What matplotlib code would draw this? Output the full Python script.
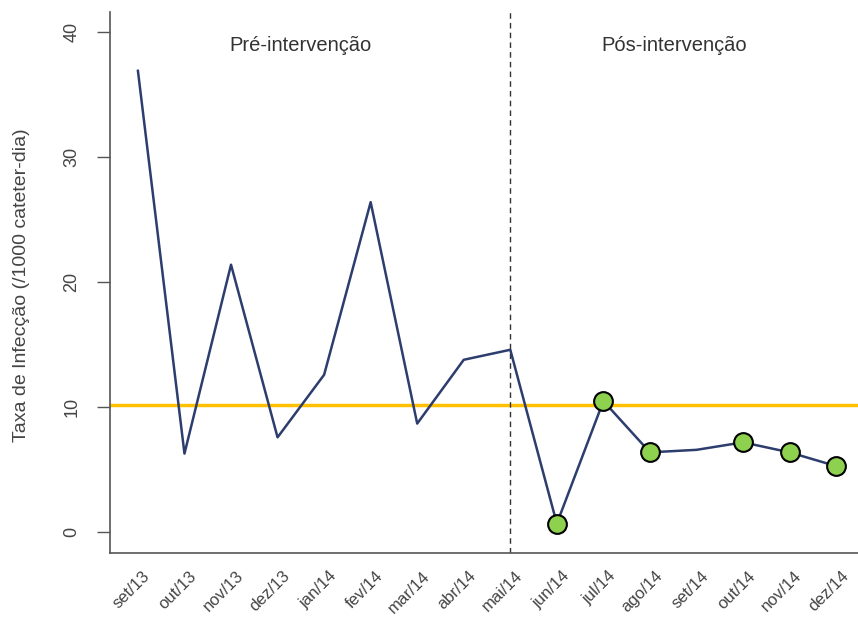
import numpy as np
import matplotlib.pyplot as plt

# data
meses = ["set/13", "out/13", "nov/13", "dez/13", "jan/14", "fev/14", "mar/14", "abr/14",
         "mai/14", "jun/14", "jul/14", "ago/14", "set/14", "out/14", "nov/14", "dez/14"]
taxa = [36.9, 6.3, 21.4, 7.6, 12.6, 26.4, 8.7, 13.8,
        14.6, 0.7, 10.5, 6.4, 6.6, 7.2, 6.4, 5.3]
pos_idx = [9, 10, 11, 13, 14, 15]   # points highlighted after the intervention
media = 10.15
corte = 9                           # intervention month (mai/14)

plt.rcParams['font.family'] = ['Liberation Sans', 'DejaVu Sans']

fig = plt.figure(figsize=(8.58, 6.2), dpi=100)
ax = fig.add_axes([0.1282, 0.108, 0.8718, 0.8726])

x = np.arange(1, len(taxa) + 1)
ax.plot(x, taxa, color='#2c3d6e', lw=1.8, zorder=2)
ax.axhline(media, color='#ffc000', lw=2.5, zorder=1)
ax.axvline(corte, color='#333333', lw=1, ls=(0, (4, 3)), zorder=1)
ax.plot(x[pos_idx], np.array(taxa)[pos_idx], 'o', ms=13.5, mfc='#8ed14f',
        mec='black', mew=1.5, zorder=3)

ax.text(4.5, 38.9, "Pré-intervenção", ha='center', va='center', fontsize=14.5, color='#333333')
ax.text(12.52, 38.9, "Pós-intervenção", ha='center', va='center', fontsize=14.5, color='#333333')

ax.set_xlim(0.4, 16.47)
ax.set_ylim(-1.65, 41.6)
ax.set_yticks([0, 10, 20, 30, 40])
ax.set_xticks(x + 0.1)
ax.set_xticklabels(meses, rotation=45, ha='right', rotation_mode='anchor')
ax.tick_params(axis='x', length=0, pad=11, labelsize=12, labelcolor='#444444')
ax.tick_params(axis='y', length=9.5, width=1, color='#555555', labelsize=13,
               labelcolor='#444444', pad=12)
for lab in ax.get_yticklabels():
    lab.set_rotation(90)
    lab.set_va('center')

for s in ['top', 'right']:
    ax.spines[s].set_visible(False)
for s in ['left', 'bottom']:
    ax.spines[s].set_color('#555555')
    ax.spines[s].set_linewidth(1.2)

fig.text(0.025, 0.54, "Taxa de Infecção (/1000 cateter-dia)", rotation=90,
         ha='center', va='center', fontsize=14, color='#444444')

fig.savefig("out.png", dpi=100)
